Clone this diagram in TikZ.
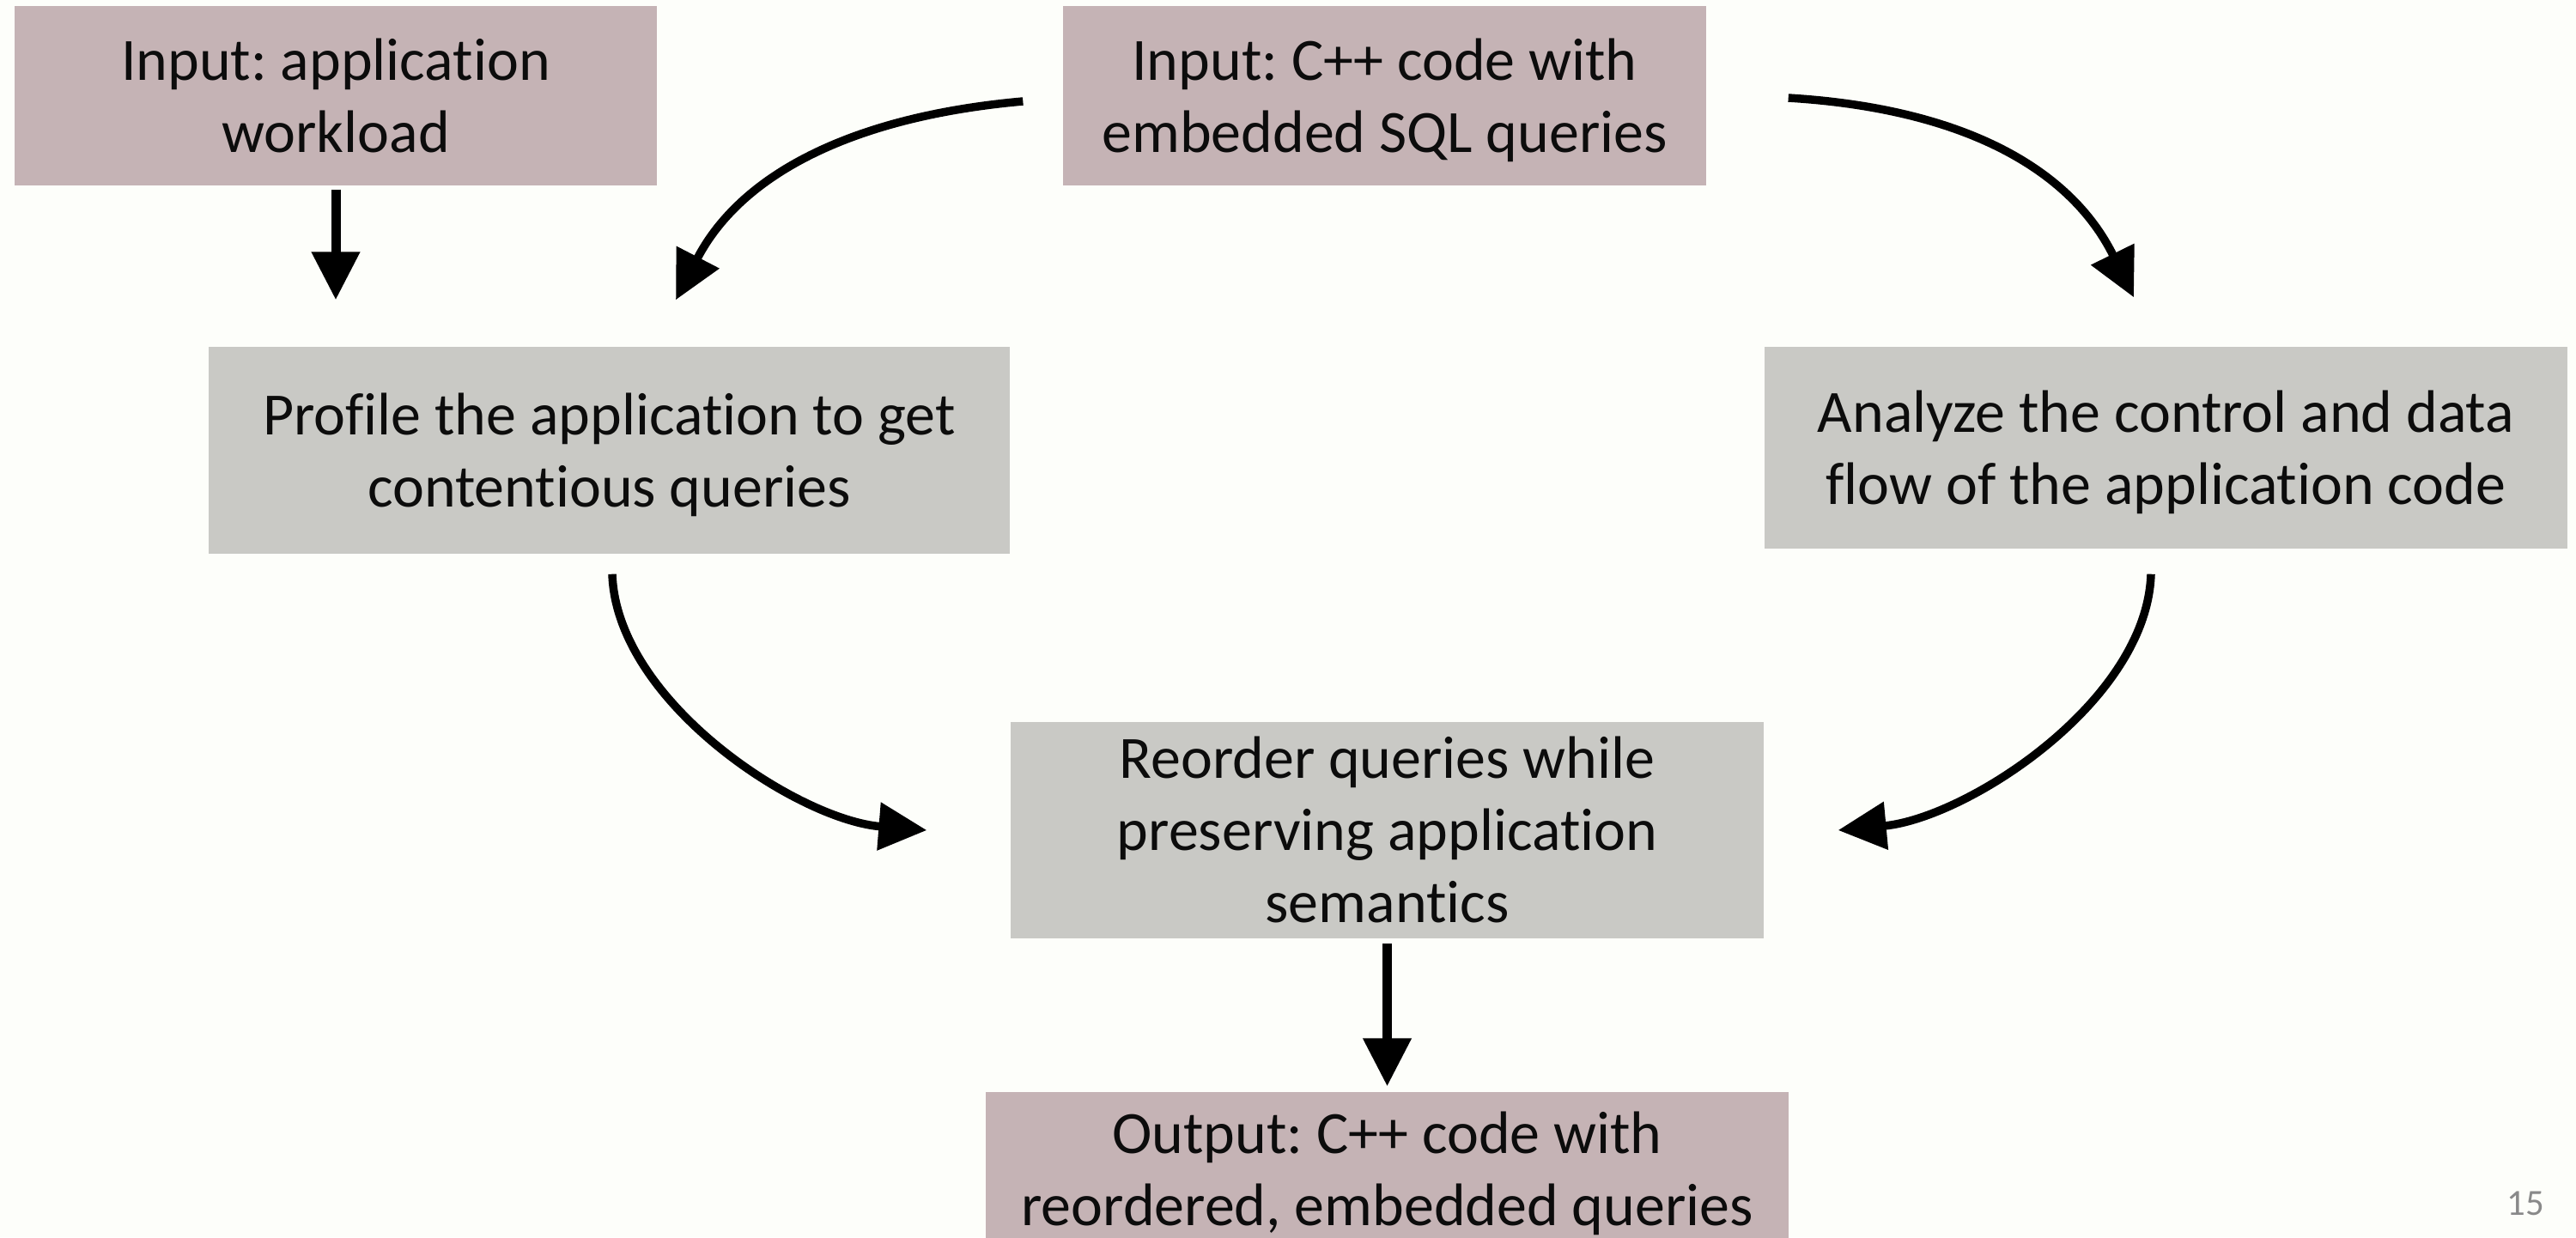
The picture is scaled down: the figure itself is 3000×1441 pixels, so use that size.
\documentclass[tikz,border=0pt]{standalone}
\usepackage{fontspec}
\setmainfont{Carlito}[Ligatures=NoCommon]
\usetikzlibrary{arrows.meta,calc}

\definecolor{pagebg}{RGB}{253,254,250}
\definecolor{inputfill}{RGB}{197,179,181}
\definecolor{stepfill}{RGB}{201,201,197}
\definecolor{inktext}{RGB}{12,12,12}
\definecolor{pagenum}{RGB}{137,137,137}

% line strut: fixed height/depth so every text line sits at a known baseline
\newcommand{\lsA}{\rule[-1.77mm]{0pt}{8.4mm}}

\frenchspacing
\begin{document}
\begin{tikzpicture}[x=0.1mm,y=-0.1mm,
  box/.style={rectangle, inner sep=0pt, align=center, text=inktext,
              font=\fontsize{19.9pt}{8.4mm}\selectfont},
  inbox/.style={box, fill=inputfill},
  procbox/.style={box, fill=stepfill},
  flow/.style={line width=0.95mm, -{Triangle[width=5.4mm,length=5.6mm]}},
  drop/.style={line width=1.1mm, -{Triangle[width=5.4mm,length=5.6mm]}}
]

\useasboundingbox (0,0) rectangle (3000,1441);
\fill[pagebg] (0,0) rectangle (3000,1441);

% inputs
\node[inbox, minimum width=74.8mm, minimum height=20.9mm] (W) at (391,111.5)
  {\lsA Input: application\\\lsA workload};
\node[inbox, minimum width=74.9mm, minimum height=20.9mm] (C) at (1612.5,111.5)
  {\lsA Input: C++ code with\\\lsA embedded SQL queries};

% processing steps
\node[procbox, minimum width=93.3mm, minimum height=24.1mm] (P) at (709.5,524.5)
  {\lsA Profile the application to get\\\lsA contentious queries};
\node[procbox, minimum width=93.5mm, minimum height=23.5mm] (A) at (2522.5,521.5)
  {\lsA Analyze the control and data\\\lsA flow of the application code};
\node[procbox, minimum width=87.7mm, minimum height=23.5mm] (R) at (1615.5,966.5)
  {\lsA Reorder queries while\\\lsA preserving application\\\lsA semantics};

% output (runs past the lower page edge)
\node[inbox, minimum width=93.5mm, minimum height=17.74mm] (O) at (1615.5,1360.7)
  {\lsA Output: C++ code with\\\lsA reordered, embedded queries};

% page number
\node[text=pagenum, inner sep=0pt, font=\fontsize{12.2pt}{14pt}\selectfont] (pg) at (2941,1401.5) {15};

% straight connectors
\draw[drop, shorten <=0.4mm, shorten >=5.4mm] (W.south) -- (W.south |- P.north);
\draw[drop, shorten <=0.6mm, shorten >=0.6mm] (R.south) -- (R.south |- O.north);

% curved connectors
\draw[flow] ($(C.west)+(-46,6.5)$) .. controls (1000,135) and (865,199) .. ($(P.north)+(77.5,-54)$);
\draw[flow] ($(C.east)+(95,2.5)$) .. controls (2282,126) and (2410,194) .. ($(A.north)+(-37.5,-57)$);
\draw[flow] ($(P.south)+(3.5,23)$) .. controls (718,818) and (930,955) .. ($(R.west)+(-97,0.5)$);
\draw[flow] ($(A.south)+(-17.5,29)$) .. controls (2500,818) and (2290,953) .. ($(R.east)+(86,0.5)$);

\end{tikzpicture}
\end{document}
